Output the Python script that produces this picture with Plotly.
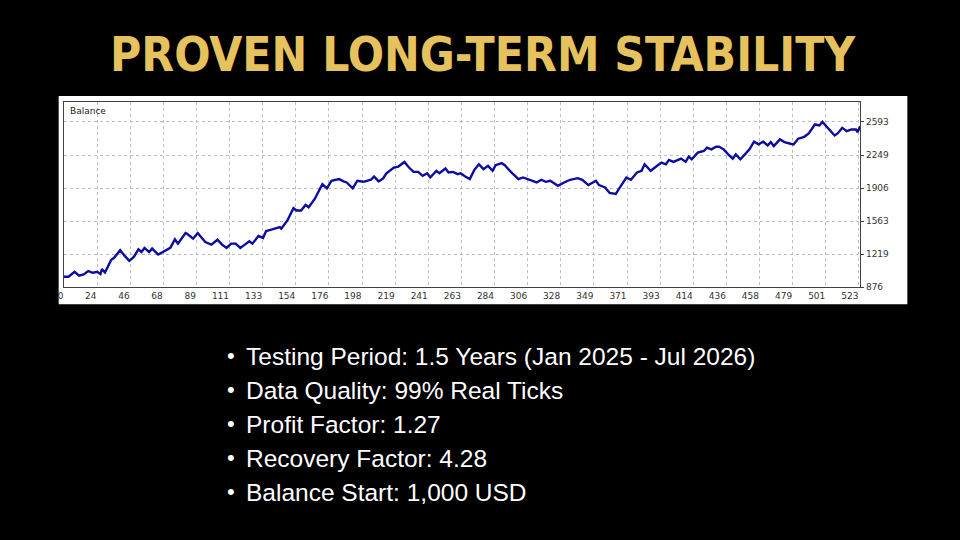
import plotly.graph_objects as go
import numpy as np

# ---- data ----
trade_idx = [0, 3, 7, 10, 13, 16, 19, 22, 24, 25, 27, 31, 33, 37, 40, 43, 46, 49, 51, 53, 56, 58, 62, 65,
             70, 73, 75, 80, 81, 85, 88, 93, 97, 101, 104, 107, 110, 113, 116, 119, 122, 124, 128, 131,
             133, 137, 142, 143, 147, 151, 153, 156, 159, 161, 165, 170, 173, 176, 181, 184, 186, 190,
             193, 197, 202, 204, 207, 210, 212, 217, 220, 224, 227, 230, 233, 236, 239, 241, 245, 247,
             251, 253, 256, 259, 261, 264, 267, 270, 273, 276, 279, 282, 284, 288, 290, 294, 299, 302,
             305, 307, 311, 314, 317, 320, 325, 329, 333, 338, 341, 345, 348, 350, 352, 356, 359, 363,
             365, 368, 370, 373, 377, 380, 382, 386, 390, 393, 396, 398, 401, 404, 406, 409, 411, 413,
             417, 421, 423, 426, 429, 431, 434, 437, 440, 442, 445, 448, 451, 454, 457, 460, 463, 465,
             467, 471, 474, 478, 480, 483, 487, 490, 494, 497, 499, 503, 507, 509, 512, 515, 518, 521,
             522, 524]
balance = [985, 986, 1037, 996, 1010, 1044, 1027, 1037, 1013, 1065, 1030, 1158, 1182, 1261, 1202, 1151,
           1192, 1271, 1243, 1285, 1243, 1278, 1216, 1243, 1285, 1374, 1329, 1439, 1432, 1381, 1439,
           1346, 1319, 1370, 1319, 1285, 1329, 1329, 1285, 1319, 1353, 1329, 1408, 1388, 1460, 1477,
           1501, 1484, 1570, 1697, 1673, 1673, 1731, 1707, 1793, 1947, 1903, 1982, 1999, 1975, 1964,
           1903, 1982, 1971, 1992, 2026, 1975, 2006, 2057, 2119, 2129, 2177, 2119, 2074, 2074, 2033,
           2060, 2016, 2085, 2060, 2109, 2067, 2074, 2050, 2060, 2026, 1999, 2095, 2153, 2102, 2136,
           2085, 2143, 2164, 2143, 2074, 1999, 2016, 1999, 1982, 1964, 1992, 1971, 1982, 1930, 1964,
           1992, 2009, 1992, 1937, 1964, 1982, 1937, 1913, 1855, 1844, 1896, 1965, 2016, 1992, 2068,
           2085, 2153, 2085, 2129, 2171, 2153, 2198, 2178, 2198, 2212, 2178, 2232, 2205, 2274, 2291,
           2325, 2308, 2335, 2335, 2308, 2256, 2212, 2256, 2205, 2256, 2308, 2387, 2359, 2387, 2349,
           2383, 2342, 2411, 2383, 2366, 2359, 2418, 2438, 2473, 2566, 2555, 2593, 2521, 2452, 2473,
           2531, 2497, 2514, 2514, 2487, 2548]

x_tick_labels = ["0", "24", "46", "68", "89", "111", "133", "154", "176", "198", "219", "241", "263",
                 "284", "306", "328", "349", "371", "393", "414", "436", "458", "479", "501", "523"]
y_tick_values = [876, 1219, 1563, 1906, 2249, 2593]

title_text = "PROVEN LONG-TERM STABILITY"
bullets = [
    "Testing Period: 1.5 Years (Jan 2025 - Jul 2026)",
    "Data Quality: 99% Real Ticks",
    "Profit Factor: 1.27",
    "Recovery Factor: 4.28",
    "Balance Start: 1,000 USD",
]

W, H = 960, 540

def px(x):
    return x / W

def py(y):
    return 1 - y / H

fig = go.Figure()
fig.add_trace(go.Scatter(x=trade_idx, y=balance, mode="lines",
                         line=dict(color="#0c0ca0", width=2.4), hoverinfo="skip"))

x_max = 523
fig.update_layout(
    width=W, height=H,
    paper_bgcolor="black", plot_bgcolor="white",
    margin=dict(l=0, r=0, t=0, b=0),
    showlegend=False,
    xaxis=dict(domain=[px(58.3), px(859.5)], range=[0, x_max * (859.5 - 58.3) / 800.0],
               tickvals=list(np.linspace(0, x_max, len(x_tick_labels))), ticktext=x_tick_labels,
               showgrid=True, gridcolor="#bdbdbd", griddash="3px,3px", gridwidth=1,
               showline=True, linecolor="#404040", linewidth=1, mirror=True,
               ticks="", ticklabelposition="outside left",
               tickfont=dict(family="DejaVu Sans", size=9, color="#333333"), zeroline=False),
    yaxis=dict(domain=[py(290), py(103)], range=[876, 876 + (290 - 103) * 343.4 / 33.4],
               side="right", tickvals=y_tick_values, ticktext=[str(v) for v in y_tick_values],
               showgrid=True, gridcolor="#bdbdbd", griddash="3px,3px", gridwidth=1,
               showline=True, linecolor="#404040", linewidth=1, mirror=True,
               ticks="outside", ticklen=3, tickcolor="#404040",
               tickfont=dict(family="DejaVu Sans", size=9, color="#333333"), zeroline=False),
)

# white panel behind chart
fig.add_shape(type="rect", xref="paper", yref="paper", x0=px(53), x1=px(907), y0=py(307), y1=py(97),
              fillcolor="white", line=dict(width=0), layer="below")

fig.add_annotation(xref="paper", yref="paper", x=px(62), y=py(112), text="Balance", showarrow=False,
                   xanchor="left", yanchor="middle", font=dict(family="DejaVu Sans", size=9, color="#222222"))

fig.add_annotation(xref="paper", yref="paper", x=0.5, y=py(55), text="<b>" + title_text + "</b>",
                   showarrow=False, xanchor="center", yanchor="middle",
                   font=dict(family="DejaVu Sans Condensed", size=47.5, color="#E6C25E"))

line_y = [360, 394, 428, 463, 497]
for txt, yy in zip(bullets, line_y):
    fig.add_annotation(xref="paper", yref="paper", x=px(226), y=py(yy - 1), text="•", showarrow=False,
                       xanchor="center", yanchor="middle",
                       font=dict(family="Liberation Sans", size=22, color="white"))
    fig.add_annotation(xref="paper", yref="paper", x=px(239), y=py(yy), text=txt, showarrow=False,
                       xanchor="left", yanchor="middle",
                       font=dict(family="Liberation Sans", size=24.5, color="white"))

fig.write_html("out.html")
